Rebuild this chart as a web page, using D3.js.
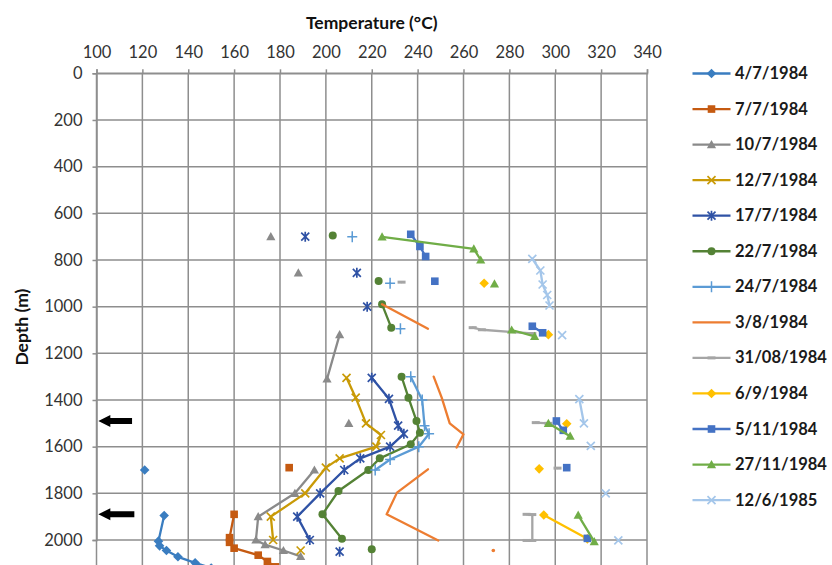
<!DOCTYPE html>
<html><head><meta charset="utf-8">
<script src="https://cdn.jsdelivr.net/npm/d3@7/dist/d3.min.js"></script>
<style>
body{margin:0;background:#fff}
svg{display:block}
text{font-family:Lato,"Open Sans",sans-serif}
</style>
</head><body>
<svg id="chart" width="832" height="565"></svg>
<script>
// ---- data (temperature °C, depth m); null = gap in the series ----
const tempTicks = [100,120,140,160,180,200,220,240,260,280,300,320,340];
const depthTicks = [0,200,400,600,800,1000,1200,1400,1600,1800,2000];
const seriesNames = ["4/7/1984","7/7/1984","10/7/1984","12/7/1984","17/7/1984","22/7/1984","24/7/1984","3/8/1984","31/08/1984","6/9/1984","5/11/1984","27/11/1984","12/6/1985"];
const seriesColors = ["#3a7dc0","#c55a11","#8a8a8a","#c99a06","#2f52a5","#548235","#5b9bd5","#ed7d31","#a5a5a5","#ffc000","#4472c4","#70ad47","#a4c6ea"];
const seriesMarkers = ["diamond","square","triangle","x","asterisk","circle","plus","none","dash","diamond","square","triangle","x"];

const s_04_07_1984 = [[121,1700],null,[129.5,1895],[127,2005],[127.5,2025],[130.5,2045],[135.5,2072],[143,2098],[150,2120]];
const s_07_07_1984 = [[184,1690],null,[160,1890],[158,1990],[158,2010],[160,2035],[170.5,2065],[174.5,2092],[178,2115]];
const s_10_07_1984 = [[176,700],null,[188,855],null,[206,1120],[200.5,1310],null,[210,1500],null,[195,1700],[186.5,1800],[170.5,1900],[169.5,2000],[173.5,2020],[181.5,2045],[189,2070]];
const s_12_07_1984 = [[209,1305],[213,1390],[217.5,1500],[224,1550],[222,1600],[206,1650],[200,1690],[191,1800],[176,1900],[177,2000],null,[189,2045]];
const s_17_07_1984 = [[191,700],null,[213.5,855],null,[218,1000],null,[220,1305],[227.5,1395],[231.5,1510],[234,1545],[228,1600],[215,1650],[208,1700],[197.5,1800],[187.5,1900],[193,2000],null,[206,2050]];
const s_22_07_1984 = [[203,695],null,[223,890],null,[224.5,990],[228.5,1090],null,[233,1300],[236,1390],[239.5,1490],[241,1540],[237,1590],[223.5,1650],[218.5,1700],[205.5,1790],[198.5,1890],[207,1995],null,[220,2040]];
const s_24_07_1984 = [[211.5,700],null,[228,900],null,[232.5,1095],null,[237,1300],[242,1400],[243,1510],[245,1545],[240.5,1600],[228,1655],[221.5,1700]];
const s_03_08_1984 = [[224.5,990],[244.5,1095],null,[247,1300],[250.5,1390],[254,1500],[260,1547],[257,1604],null,[244.5,1697],[231,1797],[226.5,1890],[249,2002],null,[273,2045]];
const s_31_08_1984 = [[233,895],null,[264,1090],[268,1099],[290,1115],null,[291.5,1497],[297,1500],null,[301,1692],null,[287.5,1890],[290,1891],[290,2002],[287.5,2002]];
const s_06_09_1984 = [[269,900],null,[297,1120],null,[305,1502],null,[293,1695],null,[295,1893],[314,1995]];
const s_05_11_1984 = [[237,690],[241,742],[243.5,785],null,[247.5,891],null,[290,1084],[294.5,1112],null,[300.5,1490],[303.5,1530],null,[305,1690],null,[314,1993]];
const s_27_11_1984 = [[224.5,701],[264.5,752],[267.5,800],null,[273.5,902],null,[281,1100],[291,1127],null,[297,1500],[306.5,1555],null,[310,1893],[317,2007]];
const s_12_06_1985 = [[290,795],[293.5,845],[294.5,905],[296.5,950],[297.5,995],null,[303,1122],null,[310.5,1396],[312.5,1500],null,[315.5,1597],null,[322,1800],null,[327.5,2002]];
const seriesData = [s_04_07_1984,s_07_07_1984,s_10_07_1984,s_12_07_1984,s_17_07_1984,s_22_07_1984,s_24_07_1984,s_03_08_1984,s_31_08_1984,s_06_09_1984,s_05_11_1984,s_27_11_1984,s_12_06_1985];

// annotation arrows (depth, temperature of tail)
const arrowDepths = [1490, 1890];
const arrowTails = [115.5, 116.5];

// ---- drawing ----
const svg = d3.select("#chart");
const pL = 96.5, pR = 647, pT = 73.3;
const x = d3.scaleLinear().domain([100,340]).range([pL,pR]);
const y = d3.scaleLinear().domain([0,2000]).range([pT,540]);

svg.append("defs").append("clipPath").attr("id","clip")
  .append("rect").attr("x",pL-6).attr("y",pT-6).attr("width",pR-pL+12).attr("height",565-pT+10);

const grid = svg.append("g");
const gridColor = "#8e8e8e";
grid.selectAll("line.v").data(tempTicks).join("line")
  .attr("x1",d=>x(d)).attr("x2",d=>x(d)).attr("y1",pT).attr("y2",570)
  .attr("stroke",gridColor).attr("stroke-width",1.5);
grid.selectAll("line.h").data(depthTicks).join("line")
  .attr("x1",pL).attr("x2",pR).attr("y1",d=>y(d)).attr("y2",d=>y(d))
  .attr("stroke",gridColor).attr("stroke-width",1.5);

// axes
const xAxis = svg.append("g").attr("transform",`translate(0,${pT})`)
  .call(d3.axisTop(x).tickValues(tempTicks).tickSize(4).tickPadding(11).tickFormat(d3.format("d")));
const yAxis = svg.append("g").attr("transform",`translate(${pL},0)`)
  .call(d3.axisLeft(y).tickValues(depthTicks).tickSize(4).tickPadding(10).tickFormat(d3.format("d")));
[xAxis,yAxis].forEach(a=>{
  a.select(".domain").attr("stroke",gridColor).attr("stroke-width",1.5);
  a.selectAll(".tick line").attr("stroke",gridColor).attr("stroke-width",1.5);
  a.selectAll(".tick text").attr("fill","#333").style("font-size","16.5px").style("font-family","Lato");
});

svg.append("text").attr("x",(pL+pR)/2).attr("y",29).attr("text-anchor","middle")
  .style("font-size","17.5px").style("font-weight","bold").attr("fill","#111").text("Temperature (°C)");
svg.append("text").attr("transform",`translate(28,${(pT+565)/2 + 8}) rotate(-90)`).attr("text-anchor","middle")
  .style("font-size","17.5px").style("font-weight","bold").attr("fill","#111").text("Depth (m)");

function drawMarker(g, type, color, px, py, isolatedNone){
  if(type==="diamond") g.append("path").attr("d","M0,-4.8L4.8,0L0,4.8L-4.8,0Z").attr("transform",`translate(${px},${py})`).attr("fill",color);
  else if(type==="square") g.append("rect").attr("x",px-3.8).attr("y",py-3.8).attr("width",7.6).attr("height",7.6).attr("fill",color);
  else if(type==="triangle") g.append("path").attr("d","M0,-4.6L4.6,3.6L-4.6,3.6Z").attr("transform",`translate(${px},${py})`).attr("fill",color);
  else if(type==="circle") g.append("circle").attr("cx",px).attr("cy",py).attr("r",4).attr("fill",color);
  else if(type==="x") g.append("path").attr("d","M-4,-4L4,4M-4,4L4,-4").attr("transform",`translate(${px},${py})`).attr("stroke",color).attr("stroke-width",1.7).attr("fill","none");
  else if(type==="asterisk") g.append("path").attr("d","M-4,-4L4,4M-4,4L4,-4M0,-5L0,5").attr("transform",`translate(${px},${py})`).attr("stroke",color).attr("stroke-width",1.7).attr("fill","none");
  else if(type==="plus") g.append("path").attr("d","M-5,0L5,0M0,-5.5L0,5.5").attr("transform",`translate(${px},${py})`).attr("stroke",color).attr("stroke-width",1.5).attr("fill","none");
  else if(type==="dash") g.append("path").attr("d","M-4,0L4,0").attr("transform",`translate(${px},${py})`).attr("stroke",color).attr("stroke-width",3).attr("fill","none");
  else if(type==="none" && isolatedNone) g.append("circle").attr("cx",px).attr("cy",py).attr("r",1.8).attr("fill",color);
}

const plot = svg.append("g").attr("clip-path","url(#clip)");
const line = d3.line().defined(d=>d!=null).x(d=>x(d[0])).y(d=>y(d[1]));
seriesData.forEach((data,i)=>{
  const g = plot.append("g");
  g.append("path").datum(data).attr("d",line).attr("fill","none")
    .attr("stroke",seriesColors[i]).attr("stroke-width",2.3).attr("stroke-linejoin","round").attr("stroke-linecap","round");
  data.forEach((d,j)=>{
    if(!d) return;
    const iso = !data[j-1] && !data[j+1];
    drawMarker(g, seriesMarkers[i], seriesColors[i], x(d[0]), y(d[1]), iso);
  });
});

// arrows
arrowDepths.forEach((dep,i)=>{
  const ay = y(dep), tip = x(100.8), tail = x(arrowTails[i]);
  svg.append("path")
    .attr("d",`M${tip},${ay} L${tip+12},${ay-6} L${tip+12},${ay-3} L${tail},${ay-3} L${tail},${ay+3} L${tip+12},${ay+3} L${tip+12},${ay+6} Z`)
    .attr("fill","#000");
});

// legend
const lg = svg.append("g");
seriesNames.forEach((name,i)=>{
  const ly = 73.5 + i*35.55;
  lg.append("line").attr("x1",692.5).attr("x2",730.5).attr("y1",ly).attr("y2",ly)
    .attr("stroke",seriesColors[i]).attr("stroke-width",2.3);
  drawMarker(lg, seriesMarkers[i], seriesColors[i], 711.5, ly, false);
  lg.append("text").attr("x",735).attr("y",ly+5.5).style("font-size","16.5px").style("font-weight","bold")
    .attr("fill","#1a1a1a").text(name);
});
</script>
</body></html>
